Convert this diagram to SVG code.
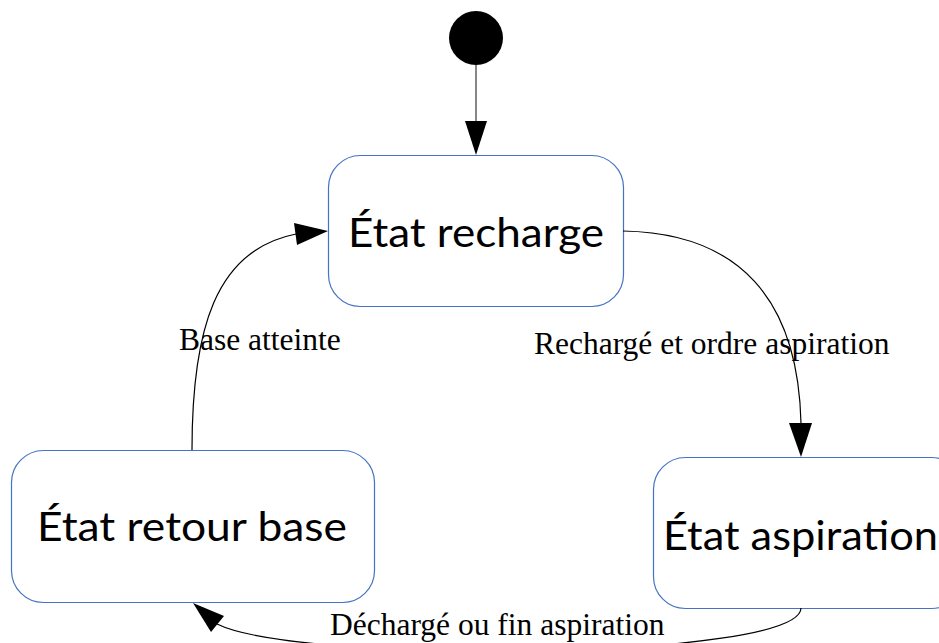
<svg xmlns="http://www.w3.org/2000/svg" width="939" height="643" viewBox="0 0 939 643">
  <style>
    .state { fill: #ffffff; stroke: #4472C4; stroke-width: 1.2; }
    .state-label { font-family: Lato, "Open Sans", sans-serif; font-size: 40px; fill: #000000; text-anchor: start; }
    .edge { fill: none; stroke: #000000; stroke-width: 1.2; }
    .edge-init { fill: none; stroke: #7a7a7a; stroke-width: 1.8; }
    .head { fill: #000000; stroke: none; }
    .edge-label { font-family: "Liberation Serif", "Times New Roman", serif; font-size: 31.5px; fill: #000000; }
  </style>

  <rect width="939" height="643" fill="#ffffff"/>

  <!-- initial pseudo-state -->
  <g id="initial">
    <circle cx="476" cy="38" r="27" fill="#000000"/>
  </g>

  <!-- states -->
  <g id="recharge">
    <rect class="state" x="328.5" y="155.5" width="295" height="151" rx="32" ry="32"/>
    <text class="state-label" x="348" y="247" textLength="256" lengthAdjust="spacingAndGlyphs">État recharge</text>
  </g>

  <g id="retour-base">
    <rect class="state" x="11.5" y="450.5" width="363" height="152" rx="32" ry="32"/>
    <text class="state-label" x="37" y="541" textLength="310" lengthAdjust="spacingAndGlyphs">État retour base</text>
  </g>

  <g id="aspiration">
    <rect class="state" x="653.5" y="457.5" width="310" height="151" rx="32" ry="32"/>
    <text class="state-label" x="663" y="550" textLength="275" lengthAdjust="spacingAndGlyphs">État aspiration</text>
  </g>

  <!-- transitions -->
  <g id="connectors">
    <line class="edge-init" x1="476" y1="65" x2="476" y2="122"/>
    <polygon class="head" points="465,121 487,121 476,155"/>

    <path class="edge" d="M623,231 C740,233 798,300 801,423"/>
    <polygon class="head" points="789,423 812,423 801,457"/>

    <path class="edge" d="M192,450 C192,330 215,250 296,234"/>
    <polygon class="head" points="294,223 297,245 328,231"/>

    <path class="edge" d="M801,608 C801,660 300,665 217,624"/>
    <polygon class="head" points="224,616 211,632 193,603"/>
  </g>

  <!-- transition labels -->
  <g id="labels">
    <text class="edge-label" x="179" y="350">Base atteinte</text>
    <text class="edge-label" x="534" y="354">Rechargé et ordre aspiration</text>
    <text class="edge-label" x="330" y="635">Déchargé ou fin aspiration</text>
  </g>
</svg>
